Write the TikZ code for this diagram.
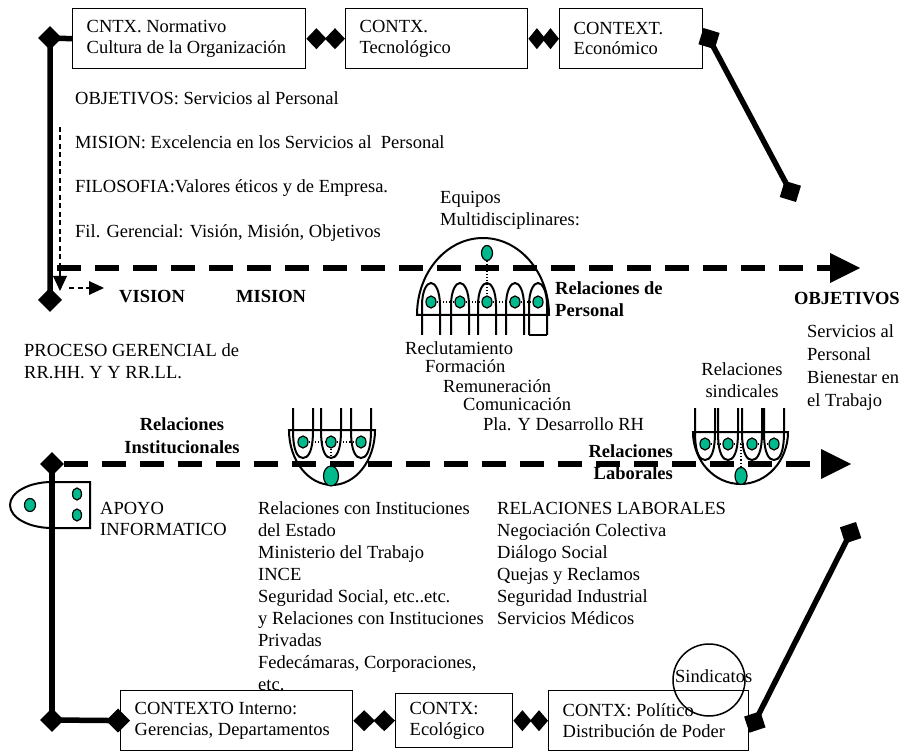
\documentclass[tikz,border=0pt]{standalone}
\usepackage{fontspec}
\setmainfont{Liberation Serif}
\usetikzlibrary{arrows.meta,shapes.geometric}
\definecolor{seagreen}{RGB}{0,185,140}
% stacked lines with a fixed baseline distance; the box baseline is the first line
\newcommand{\rowsL}[2]{\vtop{\baselineskip=#1\relax\lineskiplimit=-\maxdimen\halign{##\hfil\cr#2\crcr}}}
\newcommand{\rowsR}[2]{\vtop{\baselineskip=#1\relax\lineskiplimit=-\maxdimen\halign{\hfil##\cr#2\crcr}}}
\newcommand{\rowsC}[2]{\vtop{\baselineskip=#1\relax\lineskiplimit=-\maxdimen\halign{\hfil##\hfil\cr#2\crcr}}}
\tikzset{
  dtip/.tip={Diamond[length=24pt,width=24pt,line width=0pt]},
  txt/.style={anchor=base west, inner sep=0pt},
  ctx/.style={draw, line width=1.4pt, anchor=north west, align=flush left,
              inner xsep=14pt, inner ysep=0pt, text width=#1},
  pair/.style={line width=0.6pt,
              {Diamond[length=#1pt,width=21pt,line width=0pt]}-{Diamond[length=#1pt,width=21pt,line width=0pt]}},
  dmd/.style={diamond, fill=black, inner sep=0pt, minimum width=24pt, minimum height=24pt},
  thk/.style={line width=5.5pt},
  thind/.style={line width=1.3pt, dash pattern=on 5pt off 3.5pt},
  bigd/.style={line width=6.5pt, dash pattern=on 24pt off 14pt,
              -{Triangle[length=30pt,width=30pt,line width=0pt]}},
  dome/.style={line width=2pt},
  dotl/.style={line width=1.1pt, dash pattern=on 1.2pt off 2pt},
  gdot/.style={ellipse, draw=black, line width=1.2pt, fill=seagreen, inner sep=0pt,
              minimum width=10pt, minimum height=12pt}
}
\begin{document}
\begin{tikzpicture}[x=1pt,y=-1pt,font=\fontsize{18.5}{20.5}\selectfont]
\useasboundingbox (0,0) rectangle (900,751);

% ---------- context boxes ----------
\node[ctx=205, minimum height=60pt] (b1) at (72,8) {CNTX. Normativo\\Cultura de la Organización};
\node[ctx=154, minimum height=60pt] (b2) at (345,8) {CONTX.\\Tecnológico};
\node[ctx=115, minimum height=60pt] (b3) at (559,8) {CONTEXT.\\Económico};
\node[ctx=204, minimum height=60pt] (b4) at (120,690) {CONTEXTO Interno:\\Gerencias, Departamentos};
\node[ctx=89, minimum height=54pt] (b5) at (395,693) {CONTX:\\Ecológico};
\node[ctx=172, minimum height=60pt] (b6) at (548,690) {CONTX: Político\\Distribución de Poder};

\draw[pair=20] (b1.east) -- (b2.west);
\draw[pair=17] (b2.east) -- (b3.west);
\draw[pair=21.5] (b4.east) -- (b4.east -| b5.west);
\draw[pair=18] (b5.east) -- (b5.east -| b6.west);

% ---------- thick solid connectors ----------
\node[dmd] (tlc) at (50,38) {};
\coordinate (tlv) at (50,312);
\draw[thk, -dtip] (b1.west) -- (tlc.center) -- (tlv);

\coordinate (tr1) at ([yshift=-20pt]b3.north east);
\coordinate (tr2) at (796,202);
\draw[thk, dtip-dtip] (tr1) -- (tr2);

\coordinate (br1) at ([yshift=-12pt]b6.east);
\coordinate (br2) at (856,522);
\draw[thk, dtip-dtip] (br1) -- (br2);

\node[dmd] (ltd) at (52,464) {};
\node[dmd] (lbd) at (52,720) {};
\coordinate (b4in) at ([xshift=10pt]b4.west);
\draw[thk] (ltd.center) -- (lbd.center);
\draw[thk, -dtip] (lbd.center) -- (b4in);

% ---------- thin dashed arrows ----------
\coordinate (tv1) at (60,127);
\coordinate (tv2) at (60,291);
\draw[thind, -{Triangle[length=15pt,width=14pt,line width=0pt]}] (tv1) -- (tv2);
\coordinate (th1) at (69,288);
\coordinate (th2) at (104,288);
\draw[thind, -{Triangle[length=15pt,width=14pt,line width=0pt]}] (th1) -- (th2);

% ---------- dome: Equipos Multidisciplinares ----------
\draw[dome] (417,315) arc[start angle=180, end angle=360, x radius=66, y radius=77] -- cycle;
\foreach \cx in {431,460,487,515,538} {
  \draw[dome] (\cx-9,335) -- (\cx-9,306) .. controls (\cx-9,290) and (\cx-4,283) .. (\cx,283)
              .. controls (\cx+4,283) and (\cx+9,290) .. (\cx+9,306) -- (\cx+9,335);
}
\draw[dome] (529,335) -- (547,335);
\foreach \cx [count=\i] in {431,460,487,515,538} \node[gdot] (ea\i) at (\cx,302) {};
\node[gdot, minimum width=11pt, minimum height=15pt] (etop) at (487,253) {};
\draw[dotl] (ea1) -- (ea2) -- (ea3) -- (ea4) -- (ea5);
\draw[dotl] (etop) -- (ea3);

% ---------- bowl: Relaciones Institucionales ----------
\draw[dome] (289,430) arc[start angle=180, end angle=0, x radius=43, y radius=55] -- cycle;
\foreach \cx in {303,331,361} {
  \draw[dome] (\cx-10,408) -- (\cx-10,430) .. controls (\cx-10,452) and (\cx-5,458) .. (\cx,458)
              .. controls (\cx+5,458) and (\cx+10,452) .. (\cx+10,430) -- (\cx+10,408);
}
\foreach \cx [count=\i] in {303,331,361} \node[gdot] (ib\i) at (\cx,442) {};
\node[gdot, minimum width=15pt, minimum height=20pt] (ibig) at (331,476) {};
\draw[dotl] (ib1) -- (ib2) -- (ib3);
\draw[dotl] (ib2) -- (ibig);

% ---------- bowl: Relaciones sindicales ----------
\draw[dome] (693,432) arc[start angle=180, end angle=0, x radius=47.5, y radius=52] -- cycle;
\foreach \cx in {705,728,752,774} {
  \draw[dome] (\cx-10,408) -- (\cx-10,432) .. controls (\cx-10,454) and (\cx-5,460) .. (\cx,460)
              .. controls (\cx+5,460) and (\cx+10,454) .. (\cx+10,432) -- (\cx+10,408);
}
\foreach \cx [count=\i] in {705,728,752,774} \node[gdot] (sb\i) at (\cx,444) {};
\node[gdot, minimum width=12pt, minimum height=17pt] (sbig) at (741,476) {};
\draw[dotl] (sb1) -- (sb2) -- (sb3) -- (sb4);
\draw[dotl] (sbig) -- (sbig |- sb2);

% ---------- APOYO INFORMATICO shape ----------
\draw[dome] (90,482) -- (52,482) arc[start angle=270, end angle=90, x radius=42, y radius=23]
            -- (90,528) -- cycle;
\node[gdot, minimum width=11pt, minimum height=13pt] (ap1) at (30,505) {};
\node[gdot, minimum width=9pt] (ap2) at (77,494) {};
\node[gdot, minimum width=9pt] (ap3) at (77,515) {};

% ---------- Sindicatos ----------
\node[circle, draw, line width=1.5pt, minimum size=72pt, inner sep=0pt] (sind) at (709,680) {};
\node[txt] (sindt) at (675,682) {Sindicatos};

% ---------- thick dashed axes ----------
\coordinate (da1) at (57,268);
\coordinate (da2) at (860,268);
\draw[bigd] (da1) -- (da2);
\coordinate (db2) at (851,464);
\draw[bigd] (ltd.east) -- (db2);

% ---------- texts ----------
\node[txt] (t1) at (75,105) {OBJETIVOS: Servicios al Personal};
\node[txt] (t2) at (75,149) {MISION: Excelencia en los Servicios al~ Personal};
\node[txt] (t3) at (75,193) {FILOSOFIA:Valores éticos y de Empresa.};
\node[txt] (t4) at (75,238) {Fil. Gerencial: Visión, Misión, Objetivos};
\node[txt] (vis) at (119,303) {\textbf{VISION}};
\node[txt] (mis) at (236,303) {\textbf{MISION}};
\node[txt] (proc) at (24,356) {\rowsL{23pt}{PROCESO GERENCIAL de\cr RR.HH. Y Y RR.LL.}};
\node[txt] (equ) at (440,204) {\rowsL{22pt}{Equipos\cr Multidisciplinares:}};
\node[txt] (rdp) at (555,295) {\bfseries\rowsL{22pt}{Relaciones de\cr Personal}};
\node[txt] (objr) at (794,305) {\textbf{OBJETIVOS}};
\node[txt] (serv) at (807,338) {\rowsL{23pt}{Servicios al\cr Personal\cr Bienestar en\cr el Trabajo}};
\node[anchor=base, inner sep=0pt] (rsind) at (742,375) {\rowsC{22pt}{Relaciones\cr sindicales}};
\node[txt] (r1) at (405,355) {Reclutamiento};
\node[txt] (r2) at (425,373) {Formación};
\node[txt] (r3) at (443,392) {Remuneración};
\node[txt] (r4) at (463,410) {Comunicación};
\node[txt] (r5) at (483,430) {Pla. Y Desarrollo RH};
\node[anchor=base, inner sep=0pt] (rinst) at (182,430) {\bfseries\rowsC{23pt}{Relaciones\cr Institucionales}};
\node[anchor=base east, inner sep=0pt] (rlab) at (673,457) {\bfseries\rowsR{22pt}{Relaciones\cr Laborales}};
\node[txt] (apoyo) at (100,514) {\rowsL{21pt}{APOYO\cr INFORMATICO}};
\node[txt] (inst) at (258,514) {\rowsL{22pt}{Relaciones con Instituciones\cr del Estado\cr Ministerio del Trabajo\cr INCE\cr Seguridad Social, etc..etc.\cr y Relaciones con Instituciones\cr Privadas\cr Fedecámaras, Corporaciones,\cr etc.}};
\node[txt] (rrll) at (497,514) {\rowsL{22pt}{RELACIONES LABORALES\cr Negociación Colectiva\cr Diálogo Social\cr Quejas y Reclamos\cr Seguridad Industrial\cr Servicios Médicos}};
\end{tikzpicture}
\end{document}
